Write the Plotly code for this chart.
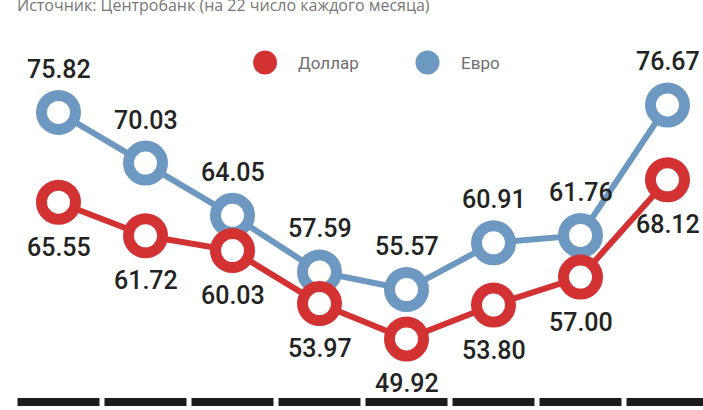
import plotly.graph_objects as go

# ---- data ----
points = list(range(8))
dollar = [65.55, 61.72, 60.03, 53.97, 49.92, 53.80, 57.00, 68.12]
euro = [75.82, 70.03, 64.05, 57.59, 55.57, 60.91, 61.76, 76.67]
series_names = ["Доллар", "Евро"]
source_text = "Источник: Центробанк (на 22 число каждого месяца)"

W, H = 703, 410
RED = "#d23232"
BLUE = "#6d98c2"
DARK = "#232323"

fig = go.Figure()

for vals, color in [(euro, BLUE), (dollar, RED)]:
    fig.add_trace(go.Scatter(
        x=points, y=vals, mode="lines+markers",
        line=dict(color=color, width=6),
        marker=dict(size=34, color="white", line=dict(color=color, width=11)),
        showlegend=False, hoverinfo="skip", cliponaxis=False,
    ))

annotations = []
for i, v in zip(points, euro):
    annotations.append(dict(x=i, y=v, xref="x", yref="y", text=f"{v:.2f}",
                            showarrow=False, yshift=43, yanchor="middle",
                            font=dict(family="Roboto", size=25, color=DARK, weight=500)))
for i, v in zip(points, dollar):
    annotations.append(dict(x=i, y=v, xref="x", yref="y", text=f"{v:.2f}",
                            showarrow=False, yshift=-45, yanchor="middle",
                            font=dict(family="Roboto", size=25, color=DARK, weight=500)))

# source line at the top (partly cut off)
annotations.append(dict(x=15 / W, y=1 - 5 / H, xref="paper", yref="paper",
                        text=source_text, showarrow=False, xanchor="left", yanchor="middle",
                        font=dict(family="Open Sans", size=16, color="#777777")))

# legend
shapes = []
legend_items = [(series_names[0], RED, 265, 296), (series_names[1], BLUE, 427.5, 459)]
for name, color, cx, tx in legend_items:
    r = 12
    shapes.append(dict(type="circle", xref="paper", yref="paper",
                       x0=(cx - r) / W, x1=(cx + r) / W,
                       y0=1 - (62.5 + r) / H, y1=1 - (62.5 - r) / H,
                       fillcolor=color, line=dict(width=0)))
    annotations.append(dict(x=tx / W, y=1 - 62.5 / H, xref="paper", yref="paper",
                            text=name, showarrow=False, xanchor="left", yanchor="middle",
                            font=dict(family="Roboto", size=17, color="#6e6e6e")))

# black base segments under each point
for i in points:
    shapes.append(dict(type="rect", xref="x", yref="paper",
                       x0=i - 41 / 87, x1=i + 41 / 87,
                       y0=1 - 406 / H, y1=1 - 398 / H,
                       fillcolor="#1c1c1c", line=dict(width=0), layer="below"))

fig.update_layout(
    width=W, height=H,
    margin=dict(l=0, r=0, t=0, b=0),
    paper_bgcolor="white", plot_bgcolor="white",
    xaxis=dict(range=[-58.5 / 87, (W - 58.5) / 87], visible=False, fixedrange=True),
    yaxis=dict(range=[41.80, 88.67], visible=False, fixedrange=True),
    annotations=annotations, shapes=shapes,
    showlegend=False,
)

fig.write_html("out.html", config={"displayModeBar": False},
               post_script="document.body.style.margin='0';document.body.style.overflow='hidden';")
